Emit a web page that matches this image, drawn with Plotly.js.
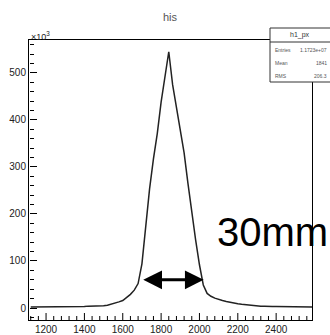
<!DOCTYPE html>
<html>
<head>
<meta charset="utf-8">
<script src="https://cdn.plot.ly/plotly-3.0.1.min.js"></script>
<style>html,body{margin:0;padding:0;background:#fff;}</style>
</head>
<body>
<div id="chart" style="width:330px;height:335px;"></div>
<script>
// Histogram "h1_px": bin centres start at 1120, 20 units wide (values in units of 10^3)
var binStart = 1120;
var binWidth = 20;
var counts = [
  2, 2, 2, 2, 2, 2, 2, 2, 2, 2,
  2, 3, 3, 3, 3, 4, 4, 4, 5, 5,
  6, 8, 10, 13, 16, 22, 29, 38, 52, 94,
  177, 254, 317, 371, 438, 494, 545, 475, 424, 375,
  330, 265, 201, 145, 92, 49, 31, 25, 21, 18,
  16, 14, 12, 10, 9, 8, 7, 6, 5, 5,
  4, 4, 3, 3, 3, 3, 2, 2, 2, 2,
  2, 2, 2, 2, 2
];
var xRange = [1111, 2587];
var yRange = [-25.5, 570];
var xMajorTicks = [1200, 1400, 1600, 1800, 2000, 2200, 2400];
var xMinorTicks = [1120, 1160, 1240, 1280, 1320, 1360, 1440, 1480, 1520, 1560,
                   1640, 1680, 1720, 1760, 1840, 1880, 1920, 1960, 2040, 2080,
                   2120, 2160, 2240, 2280, 2320, 2360, 2440, 2480, 2520, 2560];
var statLabels = ["Entries", "Mean", "RMS"];
var statValues = ["1.1723e+07", "1841", "206.3"];

var trace = {
  type: 'scatter',
  mode: 'lines',
  x0: binStart,
  dx: binWidth,
  y: counts,
  line: {color: '#222', width: 1.5, shape: 'linear'},
  hoverinfo: 'none'
};
// invisible trace on the overlay y axis that carries the inward-pointing y ticks
var tickTrace = {type: 'scatter', mode: 'lines', x0: binStart, dx: binWidth, y: counts,
  xaxis: 'x', yaxis: 'y2', line: {width: 0, color: 'rgba(0,0,0,0)'}, hoverinfo: 'none', showlegend: false};

var W = 330, H = 335, L = 29, R = 18, T = 40, B = 15;
var pw = W - L - R, ph = H - T - B;
function px(x) { return (x - L) / pw; }
function py(y) { return (H - B - y) / ph; }

// inward x ticks as short vertical segments anchored on the bottom frame
function xTickShapes(vals, lenPx) {
  return vals.map(function (v) {
    return {type: 'line', xref: 'x', yref: 'paper', x0: v, x1: v, y0: 0, y1: lenPx / ph,
            line: {color: '#000', width: 1}, layer: 'above'};
  });
}

var annotations = [
  {text: '×10<sup>3</sup>', xref: 'paper', yref: 'paper', x: px(29), y: py(36),
   xanchor: 'left', yanchor: 'middle', showarrow: false,
   font: {family: 'Liberation Sans, Arial', size: 9, color: '#222'}},
  {text: 'h1_px', xref: 'paper', yref: 'paper', x: px(300), y: py(35),
   xanchor: 'center', yanchor: 'middle', showarrow: false,
   font: {family: 'Liberation Sans, Arial', size: 7, color: '#333'}},
  {text: '30mm', xref: 'paper', yref: 'paper', x: px(215), y: py(232),
   xanchor: 'left', yanchor: 'middle', showarrow: false,
   font: {family: 'Liberation Sans, Arial', size: 40, color: '#000'}},
  {text: '', xref: 'x', yref: 'y', x: 2022, y: 60, axref: 'x', ayref: 'y', ax: 1699, ay: 60,
   showarrow: true, arrowside: 'end+start', arrowhead: 2, startarrowhead: 2,
   arrowsize: 1.25, startarrowsize: 1.25, arrowwidth: 3, arrowcolor: '#000', standoff: 0, startstandoff: 0}
];
var rowY = [50, 63, 76];
for (var i = 0; i < statLabels.length; i++) {
  annotations.push({text: statLabels[i], xref: 'paper', yref: 'paper', x: px(273), y: py(rowY[i]),
    xanchor: 'left', yanchor: 'middle', showarrow: false,
    font: {family: 'Liberation Sans, Arial', size: 5, color: '#555'}});
  annotations.push({text: statValues[i], xref: 'paper', yref: 'paper', x: px(329), y: py(rowY[i]),
    xanchor: 'right', yanchor: 'middle', showarrow: false,
    font: {family: 'Liberation Sans, Arial', size: 5, color: '#555'}});
}

var shapes = xTickShapes(xMajorTicks, 7).concat(xTickShapes(xMinorTicks, 4)).concat([
  {type: 'rect', xref: 'paper', yref: 'paper', x0: px(270), x1: px(340), y0: py(82), y1: py(28),
   line: {color: '#333', width: 1}, fillcolor: '#fff', layer: 'above'},
  {type: 'line', xref: 'paper', yref: 'paper', x0: px(270), x1: px(340), y0: py(42), y1: py(42),
   line: {color: '#333', width: 1}, layer: 'above'}
]);

var tickFont = {family: 'Liberation Sans, Arial', size: 10, color: '#222'};
var layout = {
  width: W, height: H,
  margin: {l: L, r: R, t: T, b: B, pad: 0},
  paper_bgcolor: '#fff', plot_bgcolor: 'rgba(0,0,0,0)',
  showlegend: false,
  title: {text: 'his', x: 0.515, xanchor: 'center', y: 1 - 17 / H, yanchor: 'middle',
          font: {family: 'Liberation Sans, Arial', size: 11, color: '#555'}},
  xaxis: {
    range: xRange, tickmode: 'array', tickvals: xMajorTicks, ticks: '',
    showline: true, mirror: true, linecolor: '#000', linewidth: 1,
    showgrid: false, zeroline: false, tickfont: tickFont
  },
  yaxis: {
    range: yRange, tickmode: 'linear', tick0: 0, dtick: 100, ticks: '',
    showline: true, mirror: true, linecolor: '#000', linewidth: 1,
    showgrid: false, zeroline: false, tickfont: tickFont
  },
  yaxis2: {
    overlaying: 'y', side: 'right', anchor: 'free', position: 0,
    range: yRange, tickmode: 'linear', tick0: 0, dtick: 100,
    ticks: 'outside', ticklen: 7, tickwidth: 1, tickcolor: '#000',
    minor: {tickmode: 'linear', tick0: 0, dtick: 20, ticks: 'outside', ticklen: 4, tickwidth: 1, tickcolor: '#000', showgrid: false},
    showticklabels: false, showline: false, showgrid: false, zeroline: false
  },
  shapes: shapes,
  annotations: annotations
};

Plotly.newPlot('chart', [trace, tickTrace], layout, {staticPlot: true, displayModeBar: false});
</script>
</body>
</html>
